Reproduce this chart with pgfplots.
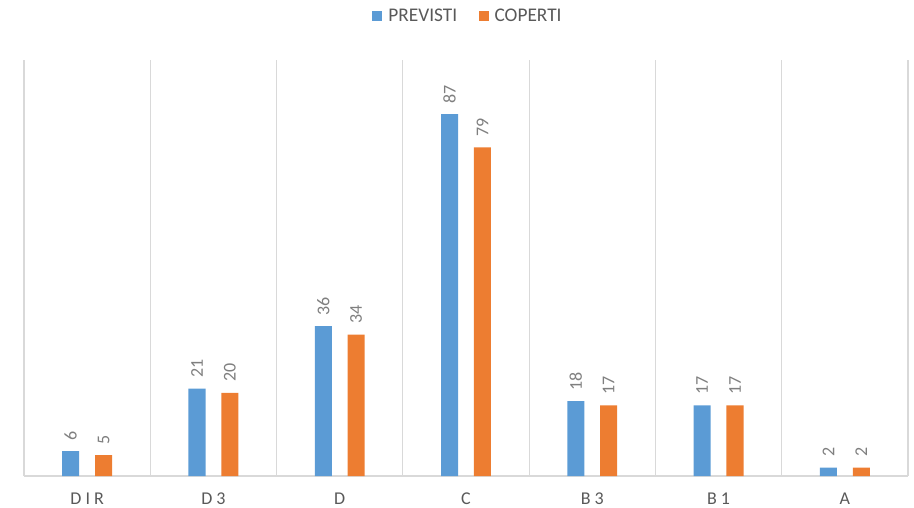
\documentclass[border=0pt]{standalone}
\usepackage{fontspec}
\setmainfont{Carlito}
\usepackage{pgfplots}
\pgfplotsset{compat=1.18}
\definecolor{cblue}{HTML}{5B9BD5}
\definecolor{corange}{HTML}{ED7D31}
\definecolor{ctext}{HTML}{595959}
\definecolor{clab}{HTML}{7F7F7F}
\definecolor{cgrid}{HTML}{D9D9D9}
\begin{document}
\begin{tikzpicture}
\begin{axis}[
  scale only axis,
  width=663pt, height=312pt,
  xmin=-0.5, xmax=6.5,
  ymin=0, ymax=100,
  /pgf/number format/assume math mode=true,
  hide y axis,
  axis x line*=bottom,
  x axis line style={-, draw=cgrid, line width=0.8pt},
  xtick={0,1,2,3,4,5,6},
  xticklabels={{D I R},{D 3},{D},{C},{B 3},{B 1},{A}},
  major tick length=0pt,
  minor xtick={-0.5,0.5,1.5,2.5,3.5,4.5,5.5,6.5},
  minor tick length=0pt,
  xminorgrids=true,
  minor grid style={draw=cgrid, line width=0.8pt},
  ticklabel style={font=\fontsize{13.5}{16}\selectfont, text=ctext},
  xticklabel style={yshift=-9pt},
  bar width=0.135,
  ybar,
  nodes near coords,
  every node near coord/.append style={rotate=90, anchor=west, inner xsep=8pt, inner ysep=0pt, font=\fontsize{13.5}{16}\selectfont, text=clab},
  legend columns=2,
  legend style={draw=none, at={(0.5045,1.106)}, anchor=center, font=\fontsize{14.5}{17}\selectfont, text=ctext,
    /tikz/every even column/.append style={column sep=11.5pt},
    /tikz/every node/.append style={inner xsep=4.5pt}},
  legend image code/.code={\fill[#1] (0pt,-3.75pt) rectangle (7.5pt,3.75pt);},
  clip=false,
]
\addplot[fill=cblue, draw=none, bar shift=-0.13] coordinates {(0,6) (1,21) (2,36) (3,87) (4,18) (5,17) (6,2)};
\addplot[fill=corange, draw=none, bar shift=0.13] coordinates {(0,5) (1,20) (2,34) (3,79) (4,17) (5,17) (6,2)};
\legend{PREVISTI, COPERTI}
\end{axis}
\pgfresetboundingbox
\path ([shift={(-18pt,-23.25pt)}]current axis.south west) rectangle ([shift={(4.5pt,45pt)}]current axis.north east);
\end{tikzpicture}
\end{document}
